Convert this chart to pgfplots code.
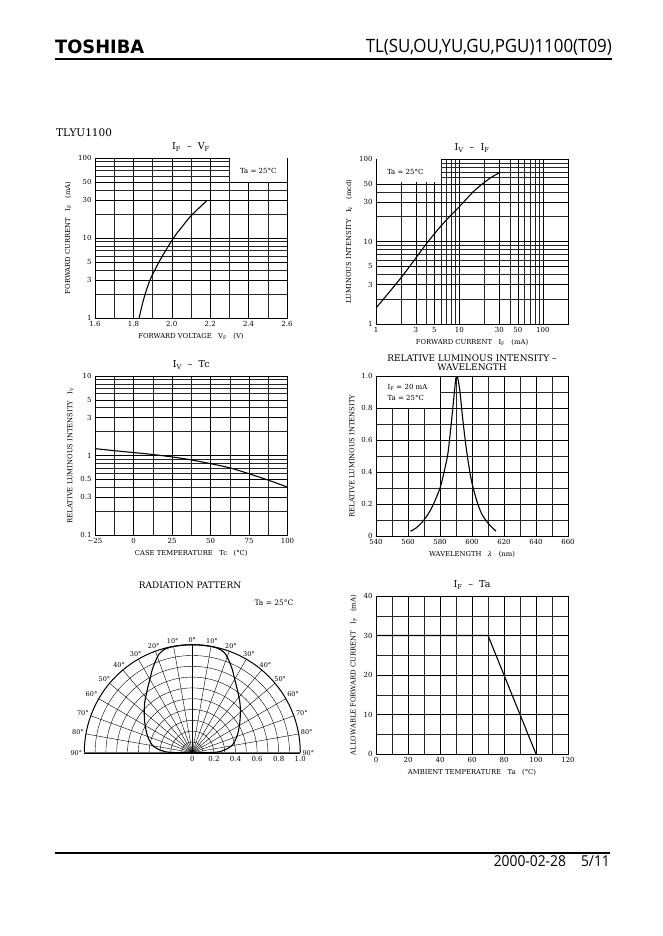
\documentclass[border=0pt]{standalone}
\usepackage{pgfplots}
\pgfplotsset{compat=1.18}
\usepackage{fontspec}
\usepackage{graphicx}
\setmainfont{DejaVu Serif}
\newfontfamily\hdr[FakeStretch=0.92]{Open Sans}
\newfontfamily\tosh[FakeStretch=0.97]{DejaVu Sans}

\pgfplotsset{
 ds/.style={
  scale only axis, anchor=north west,
  axis line style={line width=0.9pt},
  grid=both,
  major grid style={black, line width=0.45pt},
  minor grid style={black!85, line width=0.35pt},
  tick style={draw=none},
  ticklabel style={font=\fontsize{7}{8}\selectfont},
  label style={font=\fontsize{6.8}{8}\selectfont},
  title style={font=\fontsize{9.5}{10}\selectfont, yshift=-3pt},
  /pgf/number format/assume math mode=true,
  every axis plot/.append style={line width=1.1pt, black, no markers},
 }
}

\begin{document}
\begin{tikzpicture}
\path[use as bounding box, fill=white] (0pt,0pt) rectangle (662pt,-936pt);

% header
\node[anchor=base west, inner sep=0] at (55pt,-53.5pt) {\resizebox{89pt}{!}{\tosh\bfseries TOSHIBA}};
\node[anchor=base east, inner sep=0] at (612pt,-53pt) {\resizebox{246pt}{!}{\hdr TL(SU,OU,YU,GU,PGU)1100(T09)}};
\draw[line width=1.7pt] (55pt,-59pt) -- (612pt,-59pt);
% footer
\draw[line width=1.3pt] (55pt,-853pt) -- (610pt,-853pt);
\node[anchor=base east, inner sep=0] at (610pt,-866pt) {\resizebox{116pt}{!}{\hdr 2000-02-28\quad 5/11}};

\node[anchor=base west, inner sep=0, font=\fontsize{10.5}{11}\selectfont] at (56pt,-137pt) {TLYU1100};

% ---------- IF - VF ----------
\begin{axis}[ds, at={(95pt,-158pt)}, width=192pt, height=160pt,
 xmin=1.6, xmax=2.6, ymode=log, ymin=1, ymax=100,
 xtick={1.6,1.8,2.0,2.2,2.4,2.6}, xticklabels={1.6,1.8,2.0,2.2,2.4,2.6},
 minor xtick={1.7,1.9,2.1,2.3,2.5},
 ytick={1,3,5,10,30,50,100}, yticklabels={1,3,5,10,30,50,100},
 minor ytick={2,4,6,7,8,9,20,40,60,70,80,90},
 title={I\textsubscript{F}~~–~~V\textsubscript{F}},
 xlabel={FORWARD VOLTAGE~~~V\textsubscript{F}~~~(V)},
 ylabel={FORWARD CURRENT~~~I\textsubscript{F}~~~(mA)},
]
\fill[white] ([xshift=0.3pt,yshift=0.3pt]axis cs:2.3,50) rectangle ([xshift=-0.5pt,yshift=-0.5pt]rel axis cs:1,1);
\node[font=\fontsize{7}{8}\selectfont] at (axis cs:2.45,68) {Ta = 25°C};
\addplot[smooth, black, line width=1.1pt] coordinates {(1.83,1) (1.852,1.67) (1.887,3) (1.939,5.3) (2.009,10) (2.05,13.5) (2.096,18.5) (2.14,23.5) (2.183,29.4)};
\end{axis}

% ---------- IV - IF ----------
\begin{axis}[ds, at={(376pt,-159pt)}, width=192pt, height=165pt,
 xmode=log, xmin=1, xmax=200, ymode=log, ymin=1, ymax=100,
 xtick={1,3,5,10,30,50,100}, xticklabels={1,3,5,10,30,50,100},
 minor xtick={2,4,6,7,8,9,20,40,60,70,80,90,200},
 ytick={1,3,5,10,30,50,100}, yticklabels={1,3,5,10,30,50,100},
 minor ytick={2,4,6,7,8,9,20,40,60,70,80,90},
 title={I\textsubscript{V}~~–~~I\textsubscript{F}},
 xlabel={FORWARD CURRENT~~~I\textsubscript{F}~~~(mA)},
 ylabel={LUMINOUS INTENSITY~~~I\textsubscript{V}~~~(mcd)},
]
\fill[white] ([xshift=0.5pt,yshift=0.3pt]axis cs:1,52) rectangle ([xshift=-0.3pt,yshift=-0.5pt]axis cs:6,100);
\node[font=\fontsize{7}{8}\selectfont] at (axis cs:2.24,69) {Ta = 25°C};
\addplot[smooth, black, line width=1.1pt] coordinates {(1,1.56) (2.05,3.77) (4.07,9.55) (6.44,16.7) (10,26.5) (14.7,40.3) (20.3,53) (25.4,62) (31.2,69)};
\end{axis}

% ---------- IV - Tc ----------
\begin{axis}[ds, at={(95pt,-376pt)}, width=192.5pt, height=159pt,
 xmin=-25, xmax=100, ymode=log, ymin=0.1, ymax=10,
 xtick={-25,0,25,50,75,100}, xticklabels={−25,0,25,50,75,100},
 minor xtick={-12.5,12.5,37.5,62.5,87.5},
 ytick={0.1,0.3,0.5,1,3,5,10}, yticklabels={0.1,0.3,0.5,1,3,5,10},
 minor ytick={0.2,0.4,0.6,0.7,0.8,0.9,2,4,6,7,8,9},
 title={I\textsubscript{V}~~–~~Tc},
 xlabel={CASE TEMPERATURE~~~Tc~~~(°C)},
 ylabel={RELATIVE LUMINOUS INTENSITY~~~I\textsubscript{V}},
]
\addplot[smooth, black, line width=1.1pt] coordinates {(-25,1.22) (-12.5,1.15) (0,1.09) (12.5,1.03) (25,0.96) (37.5,0.88) (50,0.79) (62.5,0.70) (75,0.59) (87.5,0.49) (100,0.40)};
\end{axis}

% ---------- Relative luminous intensity - wavelength ----------
\begin{axis}[ds, at={(376pt,-376pt)}, width=192pt, height=160pt,
 xmin=540, xmax=660, ymin=0, ymax=1,
 xtick={540,560,...,660}, xticklabels={540,560,580,600,620,640,660},
 minor xtick={550,570,...,650},
 ytick={0,0.2,0.4,0.6,0.8,1.0}, yticklabels={0,0.2,0.4,0.6,0.8,1.0},
 minor ytick={0.1,0.3,0.5,0.7,0.9},
 title={RELATIVE LUMINOUS INTENSITY –\\[-1pt]WAVELENGTH},
 title style={align=center, font=\fontsize{9}{9.5}\selectfont, yshift=-1pt},
 xlabel={WAVELENGTH~~~\textit{λ}~~~(nm)},
 ylabel={RELATIVE LUMINOUS INTENSITY},
]
\fill[white] ([xshift=0.5pt,yshift=0.3pt]axis cs:540,0.8) rectangle ([xshift=-0.3pt,yshift=-0.5pt]axis cs:580,1);
\node[anchor=west, font=\fontsize{7}{8}\selectfont] at (axis cs:545,0.93) {I\textsubscript{F} = 20 mA};
\node[anchor=west, font=\fontsize{7}{8}\selectfont] at (axis cs:545,0.865) {Ta = 25°C};
\addplot[smooth, black, line width=1.1pt] coordinates {(561.5,0.03) (565,0.05) (570,0.10) (575,0.18) (580,0.30) (583,0.42) (585,0.52) (587,0.70) (588.5,0.85) (590,0.99) (591,0.99) (592.5,0.90) (594,0.75) (596,0.58) (598,0.44) (600,0.33) (603,0.22) (606,0.14) (610,0.08) (615,0.03)};
\end{axis}

% ---------- Radiation pattern ----------
\node[font=\fontsize{9}{10}\selectfont] at (190pt,-585pt) {RADIATION PATTERN};
\node[font=\fontsize{7.5}{8}\selectfont] at (274pt,-603pt) {Ta = 25°C};
\begin{scope}[shift={(192.3pt,-752.7pt)}, x=108pt, y=108pt]
 \foreach \a in {0,10,...,180} \draw[line width=0.4pt] (0,0) -- (\a:1);
 \foreach \r in {0.1,0.2,0.3,0.4,0.5,0.6,0.7,0.8,0.9} \draw[line width=0.4pt] (\r,0) arc[start angle=0,end angle=180,radius=\r];
 \draw[line width=1pt] (1,0) arc[start angle=0,end angle=180,radius=1];
 \draw[line width=1.3pt, black!60] (-1,0) -- (1,0);
 \foreach \t in {10,20,...,90} {
   \pgfmathsetmacro\pr{90-\t}\pgfmathsetmacro\pl{90+\t}
   \pgfmathsetmacro\ar{\pr+180}\pgfmathsetmacro\al{\pl+180}
   \node[font=\fontsize{6.5}{6.5}\selectfont, inner sep=1pt, anchor=\ar] at (\pr:1.01) {\t°};
   \node[font=\fontsize{6.5}{6.5}\selectfont, inner sep=1pt, anchor=\al] at (\pl:1.01) {\t°};
 }
 \node[font=\fontsize{6.5}{6.5}\selectfont, inner sep=1pt, anchor=south] at (90:1.01) {0°};
 \foreach \r/\l in {0/0,0.2/0.2,0.4/0.4,0.6/0.6,0.8/0.8,1/1.0}
   \node[font=\fontsize{7}{8}\selectfont, anchor=north, inner sep=2pt] at (\r,-0.01) {\l};
\end{scope}
\begin{axis}[scale only axis, anchor=south west, at={(84.3pt,-752.7pt)}, width=216pt, height=108pt,
 xmin=-1, xmax=1, ymin=0, ymax=1, hide axis, clip=false]
\addplot[smooth, line width=1.1pt, black, tension=0.5] coordinates {
 (0,0) (0.12,0.0) (0.246,0.008) (0.33,0.04) (0.369,0.068) (0.405,0.13) (0.425,0.191) (0.44,0.28) (0.445,0.375) (0.44,0.47) (0.415,0.591) (0.39,0.69) (0.369,0.775) (0.34,0.85) (0.308,0.914) (0.26,0.955) (0.2,0.978) (0.1,0.994) (0,1.0)
 (-0.1,0.994) (-0.2,0.978) (-0.26,0.955) (-0.308,0.914) (-0.34,0.85) (-0.369,0.775) (-0.39,0.69) (-0.415,0.591) (-0.44,0.47) (-0.445,0.375) (-0.44,0.28) (-0.425,0.191) (-0.405,0.13) (-0.369,0.068) (-0.33,0.04) (-0.246,0.008) (-0.12,0.0) (0,0)};
\end{axis}

% ---------- IF - Ta ----------
\begin{axis}[ds, at={(376pt,-596pt)}, width=192pt, height=158pt,
 xmin=0, xmax=120, ymin=0, ymax=40,
 xtick={0,20,...,120}, xticklabels={0,20,40,60,80,100,120},
 minor xtick={10,30,...,110},
 ytick={0,10,...,40}, yticklabels={0,10,20,30,40},
 minor ytick={5,15,25,35},
 title={I\textsubscript{F}~~–~~Ta},
 xlabel={AMBIENT TEMPERATURE~~~Ta~~~(°C)},
 ylabel={ALLOWABLE FORWARD CURRENT~~~I\textsubscript{F}~~~(mA)},
]
\addplot[sharp plot, black, line width=1.1pt] coordinates {(0,30) (70,30) (100,0)};
\end{axis}
\end{tikzpicture}
\end{document}
